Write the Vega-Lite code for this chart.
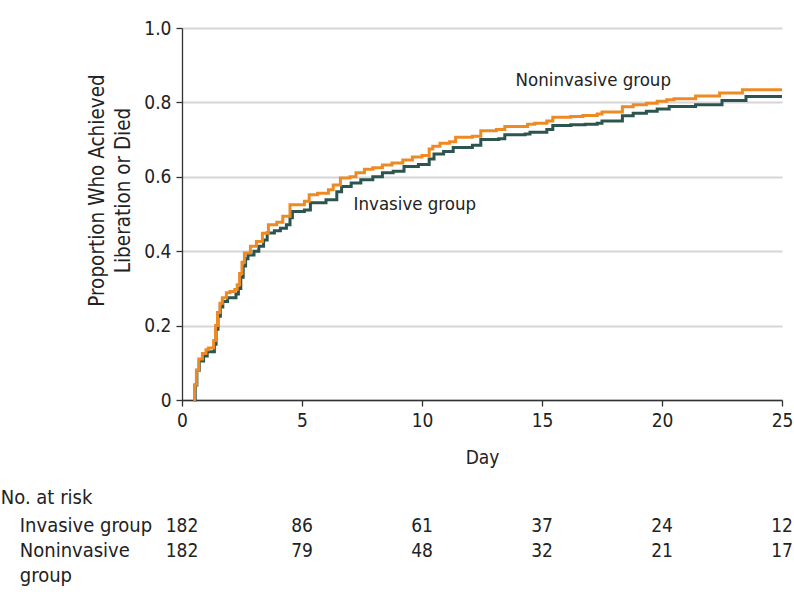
{
  "$schema": "https://vega.github.io/schema/vega-lite/v6.json",
  "padding": {"left": 0, "top": 19, "right": 2, "bottom": 5},
  "background": "white",
  "config": {
    "font": "DejaVu Sans Condensed",
    "view": {"stroke": null},
    "axis": {
      "labelFont": "DejaVu Sans Condensed",
      "titleFont": "DejaVu Sans Condensed",
      "labelFontSize": 19,
      "labelColor": "#222222",
      "titleColor": "#222222",
      "titleFontWeight": "normal",
      "domainColor": "#333333",
      "tickColor": "#333333",
      "domainWidth": 1.3,
      "tickWidth": 1.3
    },
    "text": {"font": "DejaVu Sans Condensed", "color": "#222222"}
  },
  "datasets": {
    "curves": [
      {"group": "Invasive group", "day": 0.5, "value": 0},
      {"group": "Invasive group", "day": 0.55, "value": 0.04},
      {"group": "Invasive group", "day": 0.62, "value": 0.08},
      {"group": "Invasive group", "day": 0.72, "value": 0.105},
      {"group": "Invasive group", "day": 0.9, "value": 0.118},
      {"group": "Invasive group", "day": 1.05, "value": 0.13},
      {"group": "Invasive group", "day": 1.35, "value": 0.15},
      {"group": "Invasive group", "day": 1.42, "value": 0.19},
      {"group": "Invasive group", "day": 1.5, "value": 0.225},
      {"group": "Invasive group", "day": 1.6, "value": 0.25},
      {"group": "Invasive group", "day": 1.7, "value": 0.265},
      {"group": "Invasive group", "day": 1.9, "value": 0.275},
      {"group": "Invasive group", "day": 2.25, "value": 0.285},
      {"group": "Invasive group", "day": 2.35, "value": 0.3},
      {"group": "Invasive group", "day": 2.45, "value": 0.33},
      {"group": "Invasive group", "day": 2.55, "value": 0.36},
      {"group": "Invasive group", "day": 2.65, "value": 0.38},
      {"group": "Invasive group", "day": 2.75, "value": 0.39},
      {"group": "Invasive group", "day": 3.0, "value": 0.4},
      {"group": "Invasive group", "day": 3.2, "value": 0.413},
      {"group": "Invasive group", "day": 3.4, "value": 0.43},
      {"group": "Invasive group", "day": 3.55, "value": 0.449},
      {"group": "Invasive group", "day": 3.85, "value": 0.455},
      {"group": "Invasive group", "day": 4.1, "value": 0.462},
      {"group": "Invasive group", "day": 4.35, "value": 0.471},
      {"group": "Invasive group", "day": 4.5, "value": 0.49},
      {"group": "Invasive group", "day": 4.6, "value": 0.507},
      {"group": "Invasive group", "day": 5.1, "value": 0.511},
      {"group": "Invasive group", "day": 5.35, "value": 0.53},
      {"group": "Invasive group", "day": 6.0, "value": 0.538},
      {"group": "Invasive group", "day": 6.45, "value": 0.56},
      {"group": "Invasive group", "day": 6.65, "value": 0.574},
      {"group": "Invasive group", "day": 7.05, "value": 0.583},
      {"group": "Invasive group", "day": 7.45, "value": 0.592},
      {"group": "Invasive group", "day": 7.95, "value": 0.6},
      {"group": "Invasive group", "day": 8.35, "value": 0.611},
      {"group": "Invasive group", "day": 8.8, "value": 0.615},
      {"group": "Invasive group", "day": 9.25, "value": 0.628},
      {"group": "Invasive group", "day": 9.85, "value": 0.633},
      {"group": "Invasive group", "day": 10.3, "value": 0.648},
      {"group": "Invasive group", "day": 10.5, "value": 0.661},
      {"group": "Invasive group", "day": 10.9, "value": 0.668},
      {"group": "Invasive group", "day": 11.3, "value": 0.679},
      {"group": "Invasive group", "day": 12.1, "value": 0.685},
      {"group": "Invasive group", "day": 12.45, "value": 0.7},
      {"group": "Invasive group", "day": 13.2, "value": 0.702},
      {"group": "Invasive group", "day": 13.45, "value": 0.713},
      {"group": "Invasive group", "day": 14.3, "value": 0.715},
      {"group": "Invasive group", "day": 14.5, "value": 0.72},
      {"group": "Invasive group", "day": 15.2, "value": 0.727},
      {"group": "Invasive group", "day": 15.45, "value": 0.738},
      {"group": "Invasive group", "day": 16.2, "value": 0.74},
      {"group": "Invasive group", "day": 16.8, "value": 0.741},
      {"group": "Invasive group", "day": 17.3, "value": 0.744},
      {"group": "Invasive group", "day": 17.5, "value": 0.75},
      {"group": "Invasive group", "day": 18.35, "value": 0.764},
      {"group": "Invasive group", "day": 18.8, "value": 0.771},
      {"group": "Invasive group", "day": 19.35, "value": 0.776},
      {"group": "Invasive group", "day": 19.8, "value": 0.782},
      {"group": "Invasive group", "day": 20.3, "value": 0.789},
      {"group": "Invasive group", "day": 21.4, "value": 0.794},
      {"group": "Invasive group", "day": 22.5, "value": 0.805},
      {"group": "Invasive group", "day": 23.5, "value": 0.816},
      {"group": "Invasive group", "day": 25, "value": 0.816},
      {"group": "Noninvasive group", "day": 0.48, "value": 0},
      {"group": "Noninvasive group", "day": 0.52, "value": 0.04},
      {"group": "Noninvasive group", "day": 0.6, "value": 0.08},
      {"group": "Noninvasive group", "day": 0.7, "value": 0.11},
      {"group": "Noninvasive group", "day": 0.85, "value": 0.125},
      {"group": "Noninvasive group", "day": 1.0, "value": 0.135},
      {"group": "Noninvasive group", "day": 1.1, "value": 0.14},
      {"group": "Noninvasive group", "day": 1.32, "value": 0.16},
      {"group": "Noninvasive group", "day": 1.4, "value": 0.2},
      {"group": "Noninvasive group", "day": 1.48, "value": 0.235},
      {"group": "Noninvasive group", "day": 1.58, "value": 0.26},
      {"group": "Noninvasive group", "day": 1.68, "value": 0.275},
      {"group": "Noninvasive group", "day": 1.85, "value": 0.288},
      {"group": "Noninvasive group", "day": 2.0, "value": 0.292},
      {"group": "Noninvasive group", "day": 2.2, "value": 0.297},
      {"group": "Noninvasive group", "day": 2.3, "value": 0.31},
      {"group": "Noninvasive group", "day": 2.4, "value": 0.34},
      {"group": "Noninvasive group", "day": 2.5, "value": 0.37},
      {"group": "Noninvasive group", "day": 2.6, "value": 0.395},
      {"group": "Noninvasive group", "day": 2.85, "value": 0.413},
      {"group": "Noninvasive group", "day": 3.1, "value": 0.426},
      {"group": "Noninvasive group", "day": 3.35, "value": 0.448},
      {"group": "Noninvasive group", "day": 3.6, "value": 0.471},
      {"group": "Noninvasive group", "day": 3.95, "value": 0.478},
      {"group": "Noninvasive group", "day": 4.2, "value": 0.494},
      {"group": "Noninvasive group", "day": 4.5, "value": 0.525},
      {"group": "Noninvasive group", "day": 5.1, "value": 0.534},
      {"group": "Noninvasive group", "day": 5.3, "value": 0.552},
      {"group": "Noninvasive group", "day": 5.65, "value": 0.556},
      {"group": "Noninvasive group", "day": 6.1, "value": 0.565},
      {"group": "Noninvasive group", "day": 6.3, "value": 0.578},
      {"group": "Noninvasive group", "day": 6.6, "value": 0.597},
      {"group": "Noninvasive group", "day": 7.0, "value": 0.6},
      {"group": "Noninvasive group", "day": 7.25, "value": 0.611},
      {"group": "Noninvasive group", "day": 7.6, "value": 0.62},
      {"group": "Noninvasive group", "day": 7.95, "value": 0.624},
      {"group": "Noninvasive group", "day": 8.35, "value": 0.632},
      {"group": "Noninvasive group", "day": 8.75, "value": 0.637},
      {"group": "Noninvasive group", "day": 9.2, "value": 0.645},
      {"group": "Noninvasive group", "day": 9.6, "value": 0.653},
      {"group": "Noninvasive group", "day": 10.0, "value": 0.657},
      {"group": "Noninvasive group", "day": 10.3, "value": 0.675},
      {"group": "Noninvasive group", "day": 10.45, "value": 0.682},
      {"group": "Noninvasive group", "day": 10.75, "value": 0.69},
      {"group": "Noninvasive group", "day": 11.15, "value": 0.694},
      {"group": "Noninvasive group", "day": 11.4, "value": 0.706},
      {"group": "Noninvasive group", "day": 12.1, "value": 0.709},
      {"group": "Noninvasive group", "day": 12.45, "value": 0.724},
      {"group": "Noninvasive group", "day": 13.1, "value": 0.727},
      {"group": "Noninvasive group", "day": 13.45, "value": 0.735},
      {"group": "Noninvasive group", "day": 14.4, "value": 0.741},
      {"group": "Noninvasive group", "day": 14.7, "value": 0.744},
      {"group": "Noninvasive group", "day": 15.2, "value": 0.75},
      {"group": "Noninvasive group", "day": 15.45, "value": 0.76},
      {"group": "Noninvasive group", "day": 16.2, "value": 0.762},
      {"group": "Noninvasive group", "day": 16.7, "value": 0.765},
      {"group": "Noninvasive group", "day": 17.3, "value": 0.769},
      {"group": "Noninvasive group", "day": 17.5, "value": 0.774},
      {"group": "Noninvasive group", "day": 18.35, "value": 0.788},
      {"group": "Noninvasive group", "day": 18.8, "value": 0.794},
      {"group": "Noninvasive group", "day": 19.35, "value": 0.798},
      {"group": "Noninvasive group", "day": 19.8, "value": 0.803},
      {"group": "Noninvasive group", "day": 20.2, "value": 0.807},
      {"group": "Noninvasive group", "day": 20.5, "value": 0.81},
      {"group": "Noninvasive group", "day": 21.4, "value": 0.817},
      {"group": "Noninvasive group", "day": 22.4, "value": 0.825},
      {"group": "Noninvasive group", "day": 23.35, "value": 0.834},
      {"group": "Noninvasive group", "day": 25, "value": 0.834}
    ],
    "labels": [
      {"label": "Noninvasive group", "day": 13.9, "value": 0.859},
      {"label": "Invasive group", "day": 7.15, "value": 0.528}
    ],
    "risk": [
      {"row": "Invasive group", "day": 0, "n": 182},
      {"row": "Invasive group", "day": 5, "n": 86},
      {"row": "Invasive group", "day": 10, "n": 61},
      {"row": "Invasive group", "day": 15, "n": 37},
      {"row": "Invasive group", "day": 20, "n": 24},
      {"row": "Invasive group", "day": 25, "n": 12},
      {"row": "Noninvasive group", "day": 0, "n": 182},
      {"row": "Noninvasive group", "day": 5, "n": 79},
      {"row": "Noninvasive group", "day": 10, "n": 48},
      {"row": "Noninvasive group", "day": 15, "n": 32},
      {"row": "Noninvasive group", "day": 20, "n": 21},
      {"row": "Noninvasive group", "day": 25, "n": 17}
    ]
  },
  "bounds": "flush",
  "spacing": 85,
  "vconcat": [
    {
      "width": 600,
      "height": 372,
      "layer": [
        {
          "data": {"name": "curves"},
          "mark": {"type": "line", "interpolate": "step-after", "strokeWidth": 3},
          "encoding": {
            "x": {
              "field": "day", "type": "quantitative",
              "scale": {"domain": [0, 25], "nice": false},
              "axis": {
                "values": [0, 5, 10, 15, 20, 25],
                "title": "Day",
                "titleFontSize": 19,
                "titleY": 48,
                "titleBaseline": "top",
                "labelPadding": 5,
                "tickSize": 6,
                "grid": false,
                "labelFlush": false
              }
            },
            "y": {
              "field": "value", "type": "quantitative",
              "scale": {"domain": [0, 1], "nice": false},
              "axis": {
                "values": [0, 0.2, 0.4, 0.6, 0.8, 1],
                "labelExpr": "datum.value === 0 ? '0' : format(datum.value, '.1f')",
                "grid": true,
                "gridColor": "#d6d6d6",
                "gridWidth": 2,
                "tickSize": 6,
                "labelPadding": 5,
                "labelFlush": false,
                "title": ["Proportion Who Achieved", "Liberation or Died"],
                "titleFontSize": 20.5,
                "titleAngle": -90,
                "titleX": -79,
                "titleY": 162,
                "titleAlign": "center",
                "titleBaseline": "alphabetic",
                "titleLineHeight": 26
              }
            },
            "color": {
              "field": "group", "type": "nominal",
              "scale": {"domain": ["Invasive group", "Noninvasive group"], "range": ["#2d5550", "#ee8a24"]},
              "legend": null
            }
          }
        },
        {
          "data": {"name": "labels"},
          "mark": {"type": "text", "align": "left", "baseline": "middle", "fontSize": 18.5},
          "encoding": {
            "x": {"field": "day", "type": "quantitative"},
            "y": {"field": "value", "type": "quantitative"},
            "text": {"field": "label"}
          }
        }
      ]
    },
    {
      "width": 600,
      "height": 70,
      "data": {"name": "risk"},
      "mark": {"type": "text", "align": "center", "baseline": "middle", "fontSize": 19},
      "encoding": {
        "x": {"field": "day", "type": "quantitative", "scale": {"domain": [0, 25], "nice": false}, "axis": null},
        "y": {
          "field": "row", "type": "nominal",
          "scale": {"domain": ["Invasive group", "Noninvasive group"], "range": [40.5, 65.5], "padding": 0},
          "axis": {
            "title": "No. at risk",
            "titleFontSize": 20,
            "titleAngle": 0,
            "titleAlign": "left",
            "titleBaseline": "middle",
            "titleX": -181.7,
            "titleY": 12.5,
            "domain": false,
            "ticks": false,
            "tickSize": 0,
            "labelAlign": "left",
            "labelBaseline": "middle",
            "labelFontSize": 20,
            "labelPadding": 162.7,
            "labelLimit": 0,
            "labelLineHeight": 25,
            "labelExpr": "datum.value === 'Noninvasive group' ? ['Noninvasive', 'group'] : datum.value"
          }
        },
        "text": {"field": "n", "type": "quantitative"}
      }
    }
  ]
}
